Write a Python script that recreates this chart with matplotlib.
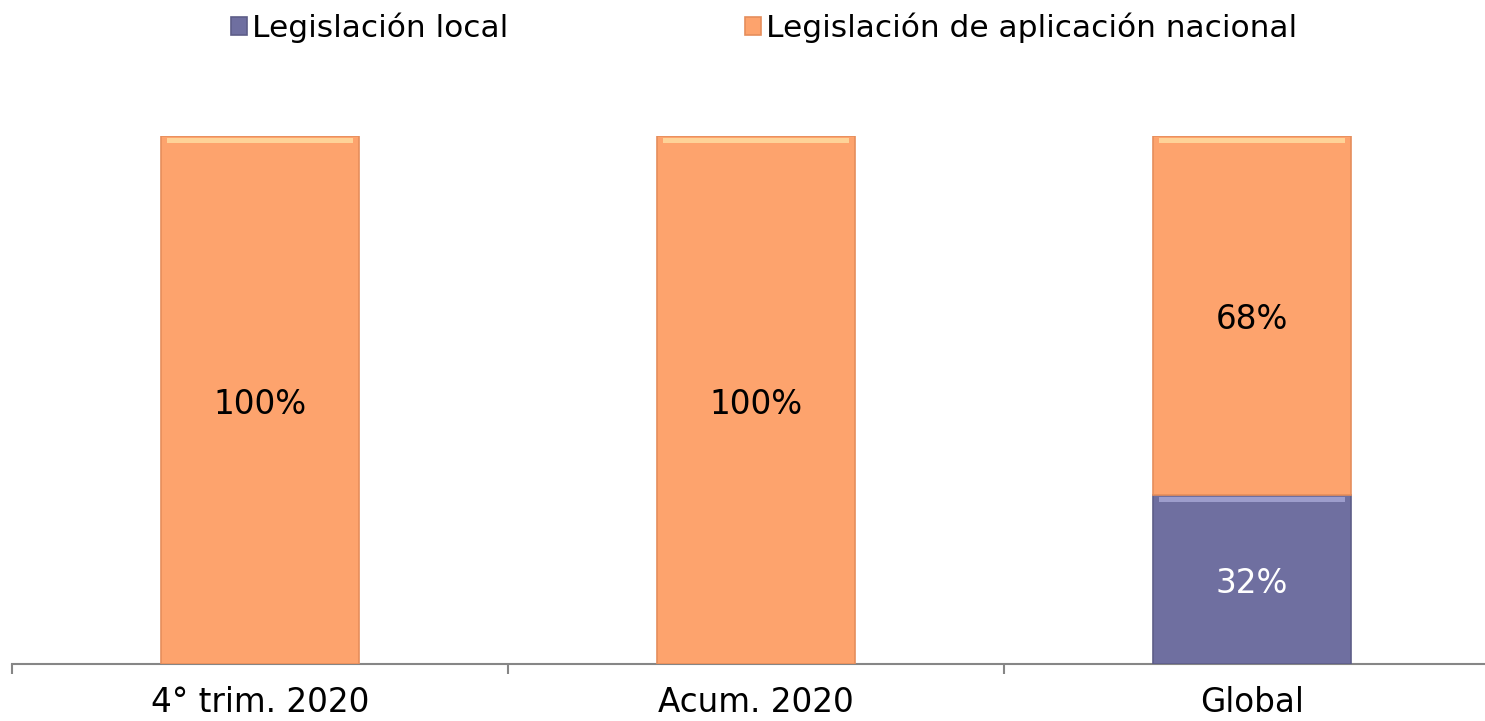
import matplotlib.pyplot as plt
import numpy as np

# Shares by period
categories = ['4° trim. 2020', 'Acum. 2020', 'Global']
local = [0.0, 0.0, 0.32]
nacional = [1.0, 1.0, 0.68]
series_names = ['Legislación local', 'Legislación de aplicación nacional']

c_local = '#6f6fa0'
c_nac = '#fda36d'
fs = 23.5

plt.rcParams['font.family'] = 'DejaVu Sans'

fig = plt.figure(figsize=(14.85, 7.21), dpi=100)
ax = fig.add_axes([12 / 1485, 57 / 721, 1 - 12 / 1485, 528 / 721])

x = np.arange(len(categories))
w = 0.4
local = np.array(local)
nacional = np.array(nacional)

b1 = ax.bar(x, local, w, color=c_local, edgecolor='#5d5d88', linewidth=1.2,
            label=series_names[0], zorder=3)
b2 = ax.bar(x, nacional, w, bottom=local, color=c_nac, edgecolor='#e58e5c',
            linewidth=1.2, label=series_names[1], zorder=3)

# light bevel along the top of each segment
bev = 0.011
gap = 0.003
for xi, lo, na in zip(x, local, nacional):
    if lo > 0:
        ax.bar(xi, bev, w * 0.94, bottom=lo - bev - gap, color='#a6a6d4',
               alpha=0.85, linewidth=0, zorder=4)
    if na > 0:
        ax.bar(xi, bev, w * 0.94, bottom=lo + na - bev - gap, color='#ffdca0',
               alpha=0.85, linewidth=0, zorder=4)

# value labels centred in each segment
dy = -0.008
for xi, lo, na in zip(x, local, nacional):
    if lo > 0:
        ax.text(xi, lo / 2 + dy, f'{lo:.0%}', ha='center', va='center',
                fontsize=fs, color='white', zorder=5)
    if na > 0:
        ax.text(xi, lo + na / 2 + dy, f'{na:.0%}', ha='center', va='center',
                fontsize=fs, color='black', zorder=5)

ax.set_xticks(x)
ax.set_xticklabels(categories, fontsize=fs)
ax.set_xticks(np.arange(len(categories) + 1) - 0.5, minor=True)
ax.set_xlim(-0.5, -0.5 + 1473 / 496)
ax.set_ylim(0, 1.0)
ax.tick_params(axis='x', which='major', length=0, pad=16)
ax.tick_params(axis='x', which='minor', length=7, width=1.5, color='#868686')
ax.set_yticks([])
for s in ['top', 'right', 'left']:
    ax.spines[s].set_visible(False)
ax.spines['bottom'].set_color('#868686')
ax.spines['bottom'].set_linewidth(1.5)

fig.legend(handles=[b1, b2], labels=series_names, loc='center',
           bbox_to_anchor=(764 / 1485, 1 - 28 / 721), ncol=2, frameon=False,
           fontsize=22.5, handlelength=0.51, handleheight=0.51,
           handletextpad=0.15, columnspacing=7.6)

fig.savefig('out.png', dpi=100)
